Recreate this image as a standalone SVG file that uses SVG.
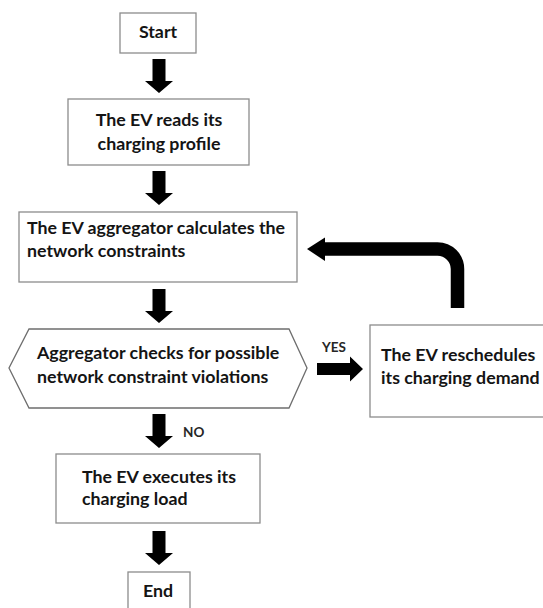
<svg xmlns="http://www.w3.org/2000/svg" xmlns:xlink="http://www.w3.org/1999/xlink" width="543" height="608" viewBox="0 0 543 608">
  <style>
    .box { fill: #ffffff; stroke: #8c8c8c; stroke-width: 1.3; }
    .lbl { font-family: Lato, "Liberation Sans", sans-serif; font-weight: 700; font-size: 17.8px; fill: #141414; }
    .small { font-family: Lato, "Liberation Sans", sans-serif; font-weight: 700; font-size: 13.5px; fill: #262626; }
    .mid { text-anchor: middle; }
    .arrow { fill: #000000; }
  </style>
  <defs>
    <!-- thick block arrow pointing down, 34 px long, centred on x = 0 -->
    <path id="down" class="arrow" d="M -6.5 0 H 6.5 V 22 H 14 L 0 34 L -14 22 H -6.5 Z"/>
  </defs>
  <rect width="543" height="608" fill="#ffffff"/>

  <g id="connectors">
    <use xlink:href="#down" x="159" y="59"/>
    <use xlink:href="#down" x="159" y="171"/>
    <use xlink:href="#down" x="159" y="289"/>
    <use xlink:href="#down" x="159" y="414"/>
    <use xlink:href="#down" x="159" y="531"/>
    <!-- YES branch -->
    <path class="arrow" d="M 317 363 H 350 V 356.5 L 363 369 L 350 381.5 V 375 H 317 Z"/>
    <text class="small" x="322" y="352">YES</text>
    <!-- NO branch label -->
    <text class="small" x="183" y="437">NO</text>
    <!-- feedback loop back to the constraint calculation -->
    <path d="M 457.5 308 V 269 A 20 20 0 0 0 437.5 249 H 323" fill="none" stroke="#000000" stroke-width="13.5"/>
    <path class="arrow" d="M 307 249 L 325 237.5 L 325 261 Z"/>
  </g>

  <g id="start">
    <rect class="box" x="120" y="13" width="76" height="40"/>
    <text class="lbl mid" x="158" y="38">Start</text>
  </g>

  <g id="read-profile">
    <rect class="box" x="68" y="99" width="181" height="66"/>
    <text class="lbl mid" x="159" y="126">The EV reads its</text>
    <text class="lbl mid" x="159" y="150">charging profile</text>
  </g>

  <g id="calc-constraints">
    <rect class="box" x="19" y="212" width="278" height="70"/>
    <text class="lbl" x="27" y="234">The EV aggregator calculates the</text>
    <text class="lbl" x="27" y="257">network constraints</text>
  </g>

  <g id="check-violations">
    <polygon class="box" points="29,329 289,329 307,368 289,408 29,408 9,368" style="stroke:#6e6e6e"/>
    <text class="lbl" x="37" y="359">Aggregator checks for possible</text>
    <text class="lbl" x="37" y="383">network constraint violations</text>
  </g>

  <g id="reschedule">
    <rect class="box" x="370" y="325" width="180" height="92"/>
    <text class="lbl" x="381" y="361">The EV reschedules</text>
    <text class="lbl" x="381" y="384">its charging demand</text>
  </g>

  <g id="execute-load">
    <rect class="box" x="56" y="454" width="204" height="69"/>
    <text class="lbl" x="82" y="483">The EV executes its</text>
    <text class="lbl" x="82" y="505">charging load</text>
  </g>

  <g id="end">
    <rect class="box" x="128" y="572" width="62" height="44"/>
    <text class="lbl mid" x="158" y="597">End</text>
  </g>
</svg>
